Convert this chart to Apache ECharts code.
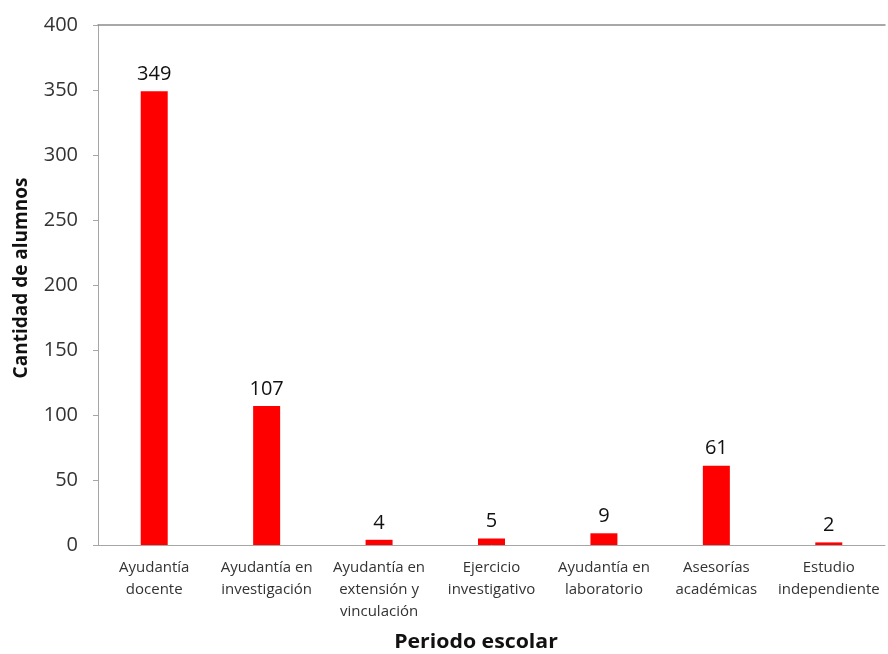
<!DOCTYPE html>
<html>
<head>
<meta charset="utf-8">
<script src="https://cdn.jsdelivr.net/npm/echarts@6/dist/echarts.min.js"></script>
<style>html,body{margin:0;padding:0;background:#fff}#c{width:888px;height:654px}</style>
</head>
<body>
<div id="c"></div>
<script>
const categories = ["Ayudantía\ndocente", "Ayudantía en\ninvestigación", "Ayudantía en\nextensión y\nvinculación", "Ejercicio\ninvestigativo", "Ayudantía en\nlaboratorio", "Asesorías\nacadémicas", "Estudio\nindependiente"];
const values = [349, 107, 4, 5, 9, 61, 2];
const yTicks = { min: 0, max: 400, interval: 50 };
const xTitle = "Periodo escolar";
const yTitle = "Cantidad de alumnos";

const FONT = "Open Sans";
const chart = echarts.init(document.getElementById('c'), null, { renderer: 'canvas' });
chart.setOption({
  animation: false,
  backgroundColor: '#fff',
  textStyle: { fontFamily: FONT },
  grid: { left: 98, right: 3, top: 25, bottom: 109, containLabel: false },
  xAxis: [{
    type: 'category',
    data: categories,
    axisLine: { show: true, lineStyle: { color: '#a6a6a6', width: 1 } },
    axisTick: { show: false },
    axisLabel: { fontFamily: FONT, fontSize: 15, color: '#333', lineHeight: 22, margin: 12, interval: 0 }
  }, {
    type: 'category',
    position: 'top',
    data: categories,
    axisLine: { show: true, lineStyle: { color: '#8c8c8c', width: 1.5 } },
    axisTick: { show: false },
    axisLabel: { show: false }
  }],
  yAxis: {
    type: 'value',
    min: yTicks.min, max: yTicks.max, interval: yTicks.interval,
    axisLine: { show: true, lineStyle: { color: '#a6a6a6', width: 1 } },
    axisTick: { show: true, inside: false, length: 5, lineStyle: { color: '#a6a6a6' } },
    splitLine: { show: false },
    axisLabel: { fontFamily: FONT, fontSize: 20, color: '#333', margin: 20 }
  },
  series: [{
    type: 'bar',
    data: values,
    barWidth: 27,
    itemStyle: { color: '#ff0000' },
    label: { show: true, position: 'top', distance: 7, fontFamily: FONT, fontSize: 20, color: '#111' }
  }],
  graphic: [{
    type: 'text',
    x: 476, y: 643,
    scaleX: 1.12,
    style: { text: xTitle, fontFamily: FONT, fontSize: 19, fontWeight: 'bold', fill: '#111', align: 'center', verticalAlign: 'middle' }
  }, {
    type: 'text',
    x: 22, y: 278,
    rotation: Math.PI / 2,
    style: { text: yTitle, fontFamily: FONT, fontSize: 19, fontWeight: 'bold', fill: '#111', align: 'center', verticalAlign: 'middle' }
  }]
});
</script>
</body>
</html>
